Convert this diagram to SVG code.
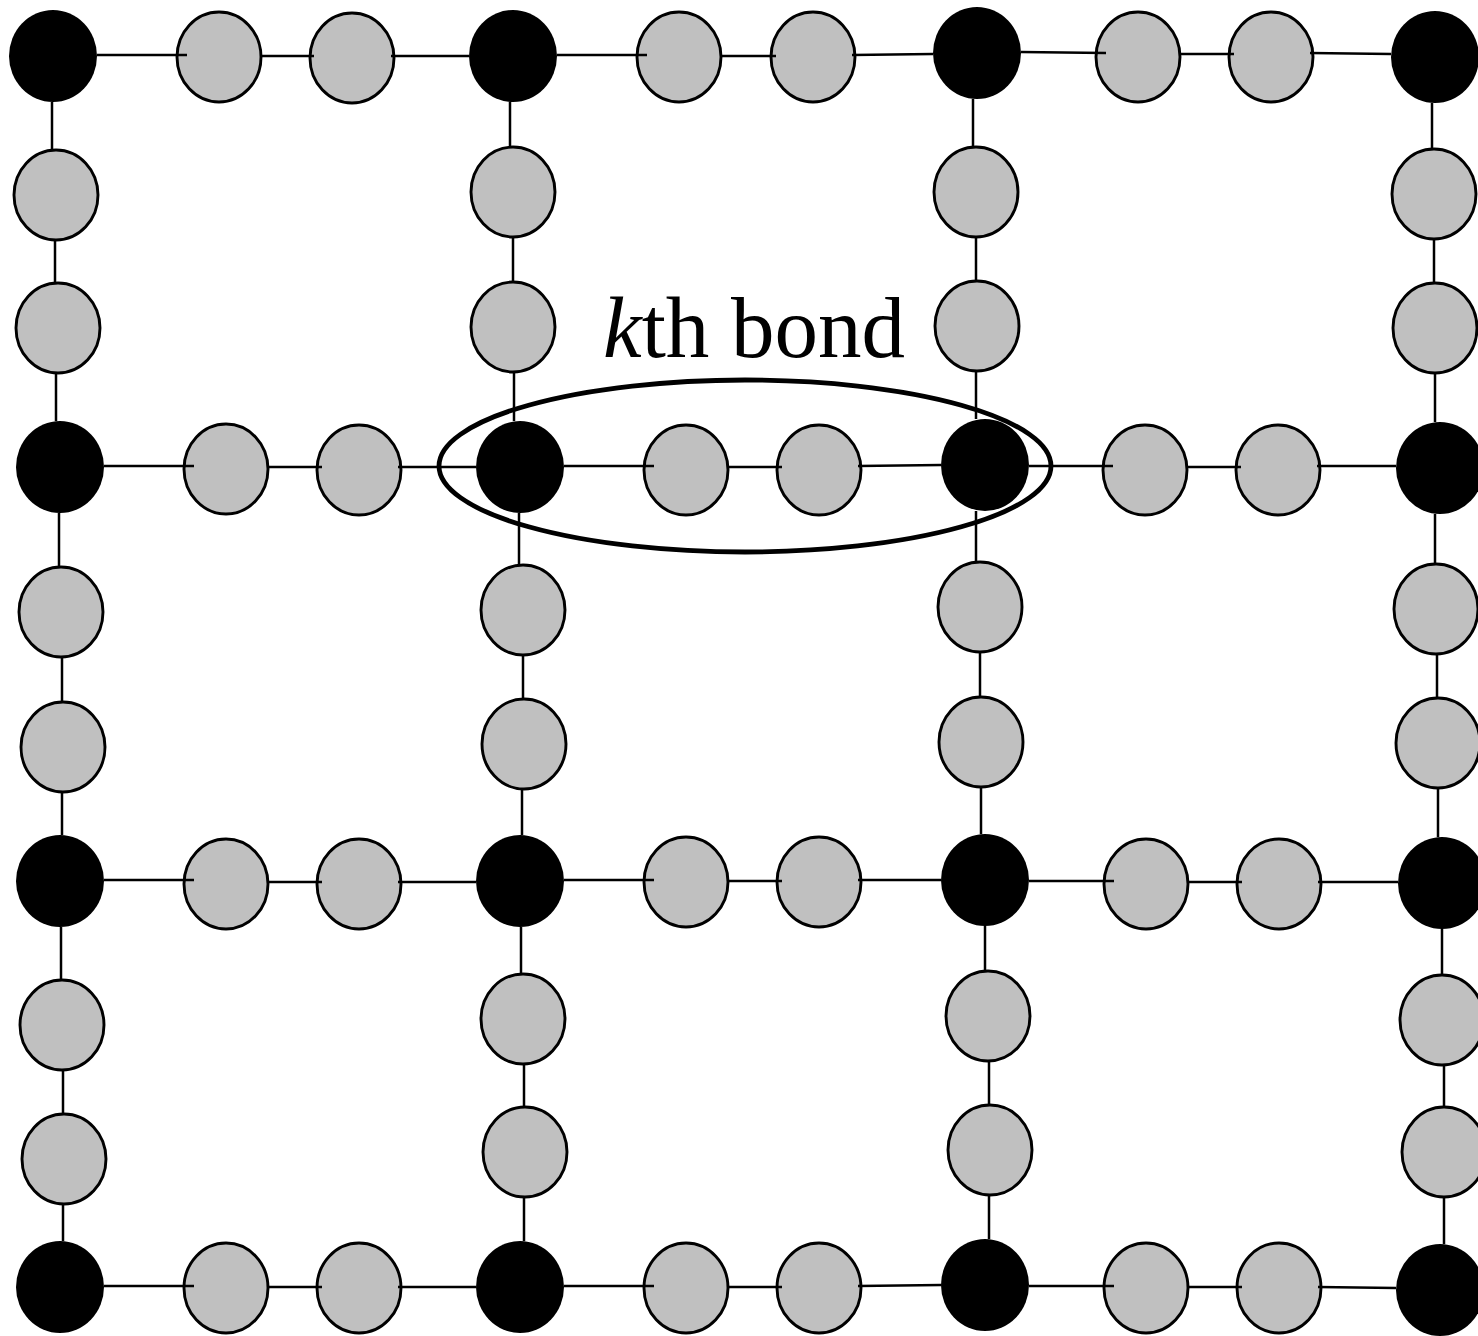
<svg xmlns="http://www.w3.org/2000/svg" width="1478" height="1336" viewBox="0 0 1478 1336">
<style>
.b{fill:#000}
.g{fill:#c0c0c0;stroke:#000;stroke-width:2.9}
.c line{stroke:#000;stroke-width:2.5}
.lbl{font-family:"Liberation Serif","Times New Roman",serif;font-size:87px;fill:#000}
</style>
<rect width="1478" height="1336" fill="#fff"/>
<g id="nodes-gray">
<g id="g-r0-1"><ellipse class="g" cx="219" cy="57" rx="42" ry="45"/></g>
<g id="g-r0-2"><ellipse class="g" cx="352" cy="58" rx="42" ry="45"/></g>
<g id="g-r0-3"><ellipse class="g" cx="679" cy="57" rx="42" ry="45"/></g>
<g id="g-r0-4"><ellipse class="g" cx="813" cy="57" rx="42" ry="45"/></g>
<g id="g-r0-5"><ellipse class="g" cx="1138" cy="57" rx="42" ry="45"/></g>
<g id="g-r0-6"><ellipse class="g" cx="1271" cy="57" rx="42" ry="45"/></g>
<g id="g-r1-1"><ellipse class="g" cx="226" cy="469" rx="42" ry="45"/></g>
<g id="g-r1-2"><ellipse class="g" cx="359" cy="470" rx="42" ry="45"/></g>
<g id="g-r1-3"><ellipse class="g" cx="686" cy="470" rx="42" ry="45"/></g>
<g id="g-r1-4"><ellipse class="g" cx="819" cy="470" rx="42" ry="45"/></g>
<g id="g-r1-5"><ellipse class="g" cx="1145" cy="470" rx="42" ry="45"/></g>
<g id="g-r1-6"><ellipse class="g" cx="1278" cy="470" rx="42" ry="45"/></g>
<g id="g-r2-1"><ellipse class="g" cx="226" cy="884" rx="42" ry="45"/></g>
<g id="g-r2-2"><ellipse class="g" cx="359" cy="884" rx="42" ry="45"/></g>
<g id="g-r2-3"><ellipse class="g" cx="686" cy="882" rx="42" ry="45"/></g>
<g id="g-r2-4"><ellipse class="g" cx="819" cy="882" rx="42" ry="45"/></g>
<g id="g-r2-5"><ellipse class="g" cx="1146" cy="884" rx="42" ry="45"/></g>
<g id="g-r2-6"><ellipse class="g" cx="1279" cy="884" rx="42" ry="45"/></g>
<g id="g-r3-1"><ellipse class="g" cx="226" cy="1288" rx="42" ry="45"/></g>
<g id="g-r3-2"><ellipse class="g" cx="359" cy="1288" rx="42" ry="45"/></g>
<g id="g-r3-3"><ellipse class="g" cx="686" cy="1288" rx="42" ry="45"/></g>
<g id="g-r3-4"><ellipse class="g" cx="819" cy="1288" rx="42" ry="45"/></g>
<g id="g-r3-5"><ellipse class="g" cx="1146" cy="1288" rx="42" ry="45"/></g>
<g id="g-r3-6"><ellipse class="g" cx="1279" cy="1288" rx="42" ry="45"/></g>
<g id="g-c0-1"><ellipse class="g" cx="56" cy="195" rx="42" ry="45"/></g>
<g id="g-c0-2"><ellipse class="g" cx="58" cy="328" rx="42" ry="45"/></g>
<g id="g-c0-3"><ellipse class="g" cx="61" cy="612" rx="42" ry="45"/></g>
<g id="g-c0-4"><ellipse class="g" cx="63" cy="747" rx="42" ry="45"/></g>
<g id="g-c0-5"><ellipse class="g" cx="62" cy="1025" rx="42" ry="45"/></g>
<g id="g-c0-6"><ellipse class="g" cx="64" cy="1159" rx="42" ry="45"/></g>
<g id="g-c1-1"><ellipse class="g" cx="513" cy="192" rx="42" ry="45"/></g>
<g id="g-c1-2"><ellipse class="g" cx="513" cy="327" rx="42" ry="45"/></g>
<g id="g-c1-3"><ellipse class="g" cx="523" cy="610" rx="42" ry="45"/></g>
<g id="g-c1-4"><ellipse class="g" cx="524" cy="744" rx="42" ry="45"/></g>
<g id="g-c1-5"><ellipse class="g" cx="523" cy="1019" rx="42" ry="45"/></g>
<g id="g-c1-6"><ellipse class="g" cx="525" cy="1152" rx="42" ry="45"/></g>
<g id="g-c2-1"><ellipse class="g" cx="976" cy="192" rx="42" ry="45"/></g>
<g id="g-c2-2"><ellipse class="g" cx="977" cy="326" rx="42" ry="45"/></g>
<g id="g-c2-3"><ellipse class="g" cx="980" cy="607" rx="42" ry="45"/></g>
<g id="g-c2-4"><ellipse class="g" cx="981" cy="742" rx="42" ry="45"/></g>
<g id="g-c2-5"><ellipse class="g" cx="988" cy="1016" rx="42" ry="45"/></g>
<g id="g-c2-6"><ellipse class="g" cx="990" cy="1150" rx="42" ry="45"/></g>
<g id="g-c3-1"><ellipse class="g" cx="1434" cy="194" rx="42" ry="45"/></g>
<g id="g-c3-2"><ellipse class="g" cx="1435" cy="328" rx="42" ry="45"/></g>
<g id="g-c3-3"><ellipse class="g" cx="1436" cy="609" rx="42" ry="45"/></g>
<g id="g-c3-4"><ellipse class="g" cx="1438" cy="743" rx="42" ry="45"/></g>
<g id="g-c3-5"><ellipse class="g" cx="1442" cy="1020" rx="42" ry="45"/></g>
<g id="g-c3-6"><ellipse class="g" cx="1444" cy="1152" rx="42" ry="45"/></g>
</g>
<g id="connectors" class="c">
<line x1="97" y1="55" x2="187" y2="55"/><line x1="261" y1="56" x2="314" y2="56"/><line x1="391" y1="56" x2="469" y2="56"/>
<line x1="557" y1="55" x2="647" y2="55"/><line x1="721" y1="56" x2="776" y2="56"/><line x1="852" y1="55" x2="933" y2="54"/>
<line x1="1021" y1="52" x2="1106" y2="53"/><line x1="1180" y1="54" x2="1234" y2="54"/><line x1="1310" y1="53" x2="1391" y2="54"/>
<line x1="104" y1="466" x2="194" y2="466"/><line x1="268" y1="467" x2="322" y2="467"/><line x1="398" y1="467" x2="476" y2="467"/>
<line x1="564" y1="466" x2="654" y2="466"/><line x1="728" y1="467" x2="782" y2="467"/><line x1="858" y1="466" x2="941" y2="465"/>
<line x1="1029" y1="466" x2="1113" y2="466"/><line x1="1187" y1="467" x2="1241" y2="467"/><line x1="1317" y1="466" x2="1396" y2="466"/>
<line x1="104" y1="880" x2="194" y2="880"/><line x1="268" y1="882" x2="322" y2="882"/><line x1="398" y1="882" x2="476" y2="882"/>
<line x1="564" y1="880" x2="654" y2="880"/><line x1="728" y1="881" x2="782" y2="881"/><line x1="858" y1="880" x2="941" y2="880"/>
<line x1="1029" y1="881" x2="1114" y2="881"/><line x1="1188" y1="882" x2="1242" y2="882"/><line x1="1318" y1="882" x2="1398" y2="882"/>
<line x1="104" y1="1286" x2="194" y2="1286"/><line x1="268" y1="1287" x2="322" y2="1287"/><line x1="398" y1="1287" x2="476" y2="1287"/>
<line x1="564" y1="1286" x2="654" y2="1286"/><line x1="728" y1="1287" x2="782" y2="1287"/><line x1="858" y1="1286" x2="941" y2="1285"/>
<line x1="1029" y1="1286" x2="1114" y2="1286"/><line x1="1188" y1="1287" x2="1242" y2="1287"/><line x1="1318" y1="1287" x2="1396" y2="1288"/>
<line x1="52" y1="102" x2="52" y2="150"/><line x1="55" y1="240" x2="55" y2="283"/><line x1="56" y1="373" x2="56" y2="421"/>
<line x1="59" y1="513" x2="59" y2="567"/><line x1="62" y1="657" x2="62" y2="702"/><line x1="62" y1="792" x2="62" y2="835"/>
<line x1="61" y1="927" x2="61" y2="980"/><line x1="63" y1="1070" x2="63" y2="1114"/><line x1="63" y1="1204" x2="63" y2="1241"/>
<line x1="510" y1="102" x2="510" y2="147"/><line x1="513" y1="237" x2="513" y2="282"/><line x1="514" y1="372" x2="514" y2="421"/>
<line x1="519" y1="513" x2="519" y2="565"/><line x1="523" y1="655" x2="523" y2="699"/><line x1="522" y1="789" x2="522" y2="835"/>
<line x1="521" y1="927" x2="521" y2="974"/><line x1="524" y1="1064" x2="524" y2="1107"/><line x1="524" y1="1197" x2="524" y2="1241"/>
<line x1="973" y1="99" x2="973" y2="147"/><line x1="976" y1="237" x2="976" y2="281"/><line x1="976" y1="371" x2="976" y2="419"/>
<line x1="976" y1="511" x2="976" y2="562"/><line x1="980" y1="652" x2="980" y2="697"/><line x1="981" y1="787" x2="981" y2="834"/>
<line x1="985" y1="926" x2="985" y2="971"/><line x1="989" y1="1061" x2="989" y2="1105"/><line x1="989" y1="1195" x2="989" y2="1239"/>
<line x1="1432" y1="103" x2="1432" y2="149"/><line x1="1434" y1="239" x2="1434" y2="283"/><line x1="1435" y1="373" x2="1435" y2="422"/>
<line x1="1435" y1="514" x2="1435" y2="564"/><line x1="1437" y1="654" x2="1437" y2="698"/><line x1="1438" y1="788" x2="1438" y2="837"/>
<line x1="1442" y1="929" x2="1442" y2="975"/><line x1="1444" y1="1065" x2="1444" y2="1107"/><line x1="1444" y1="1197" x2="1444" y2="1244"/>
</g>
<g id="nodes-black">
<g id="b-0-0"><ellipse class="b" cx="53" cy="56" rx="44" ry="46"/></g>
<g id="b-0-1"><ellipse class="b" cx="513" cy="56" rx="44" ry="46"/></g>
<g id="b-0-2"><ellipse class="b" cx="977" cy="53" rx="44" ry="46"/></g>
<g id="b-0-3"><ellipse class="b" cx="1435" cy="57" rx="44" ry="46"/></g>
<g id="b-1-0"><ellipse class="b" cx="60" cy="467" rx="44" ry="46"/></g>
<g id="b-1-1"><ellipse class="b" cx="520" cy="467" rx="44" ry="46"/></g>
<g id="b-1-2"><ellipse class="b" cx="985" cy="465" rx="44" ry="46"/></g>
<g id="b-1-3"><ellipse class="b" cx="1440" cy="468" rx="44" ry="46"/></g>
<g id="b-2-0"><ellipse class="b" cx="60" cy="881" rx="44" ry="46"/></g>
<g id="b-2-1"><ellipse class="b" cx="520" cy="881" rx="44" ry="46"/></g>
<g id="b-2-2"><ellipse class="b" cx="985" cy="880" rx="44" ry="46"/></g>
<g id="b-2-3"><ellipse class="b" cx="1442" cy="883" rx="44" ry="46"/></g>
<g id="b-3-0"><ellipse class="b" cx="60" cy="1287" rx="44" ry="46"/></g>
<g id="b-3-1"><ellipse class="b" cx="520" cy="1287" rx="44" ry="46"/></g>
<g id="b-3-2"><ellipse class="b" cx="985" cy="1285" rx="44" ry="46"/></g>
<g id="b-3-3"><ellipse class="b" cx="1440" cy="1290" rx="44" ry="46"/></g>
</g>
<g id="kth-bond">
<ellipse cx="745" cy="466" rx="306" ry="86" fill="none" stroke="#000" stroke-width="4.8"/>
<text class="lbl" x="603" y="357"><tspan font-style="italic">k</tspan>th bond</text>
</g>
</svg>
